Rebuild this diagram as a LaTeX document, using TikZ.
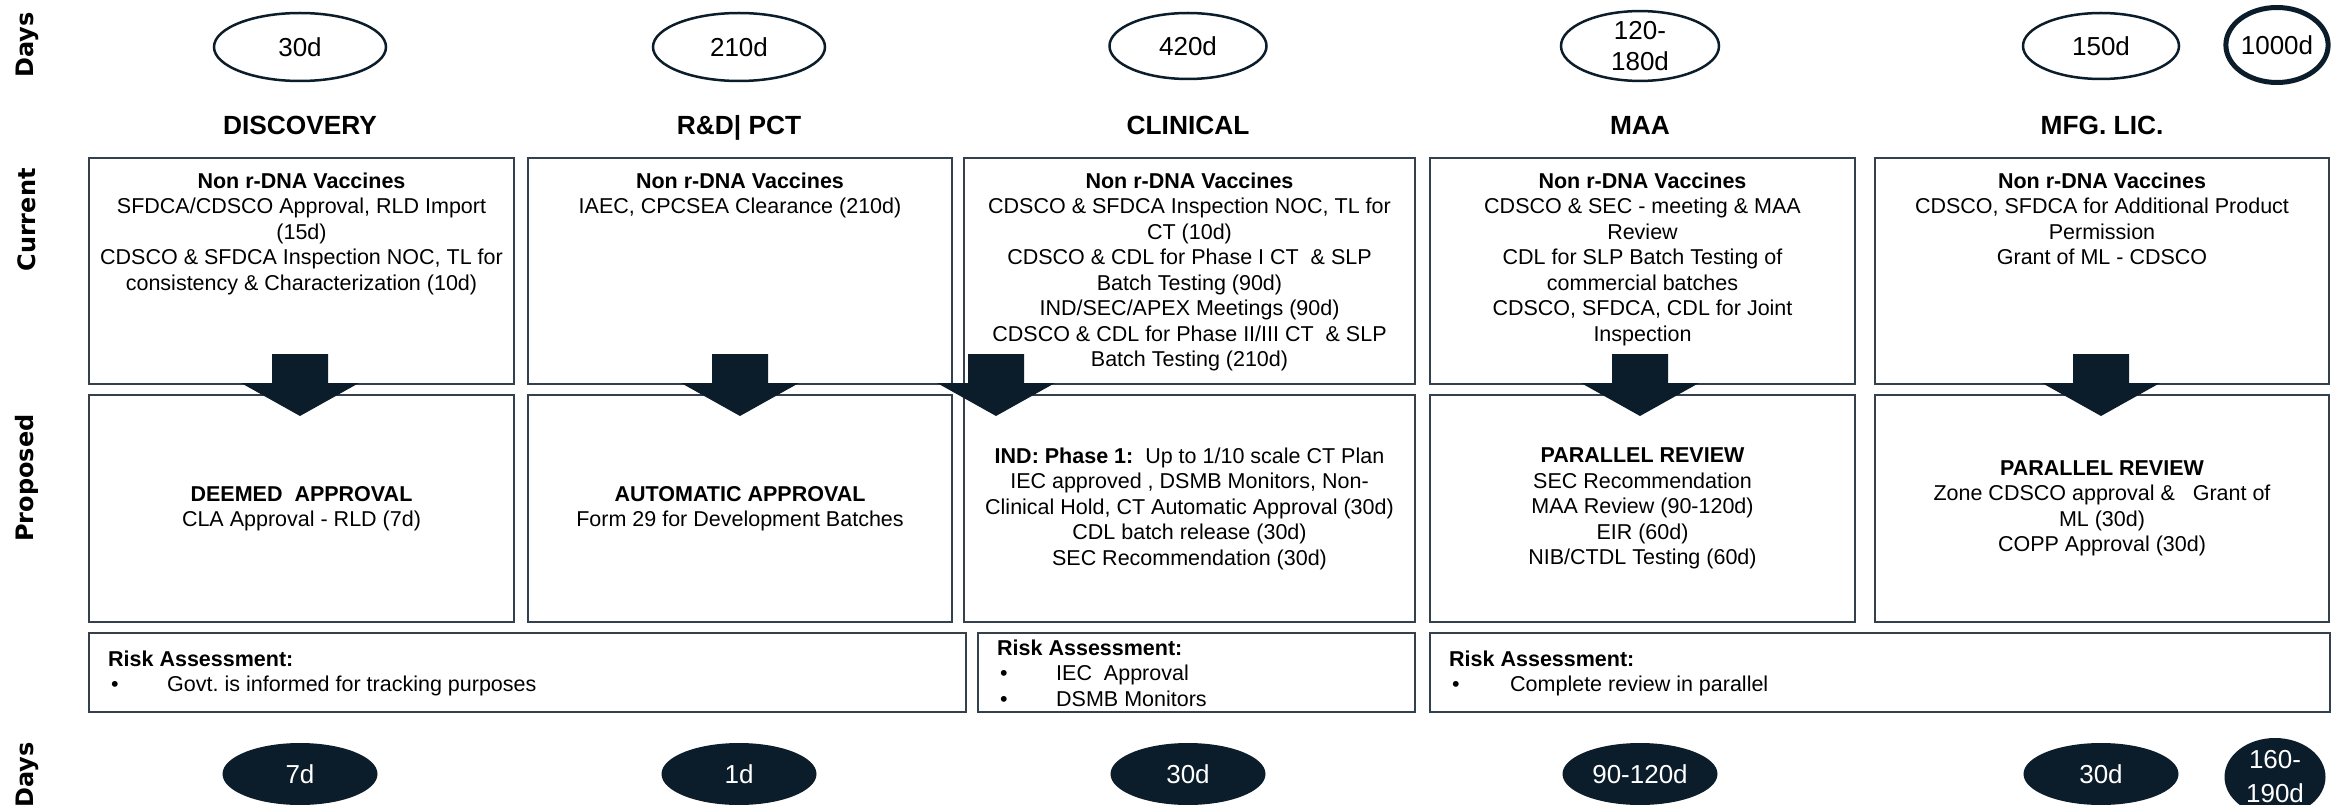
\documentclass[tikz,border=0pt]{standalone}
\usepackage{fontspec}
\setmainfont{Liberation Sans}
\newfontfamily\sidefont{DejaVu Sans}
\usetikzlibrary{shapes.geometric}
\frenchspacing
\definecolor{navy}{HTML}{0B1D2B}
\definecolor{edge}{HTML}{34414C}
\newcommand\blt[1]{\makebox[59pt][l]{\hspace*{3pt}\textbullet}#1}
\tikzset{
  body/.style={font=\fontsize{21.5}{25.5}\selectfont, align=center, inner sep=0pt},
  box/.style={draw=edge, line width=2pt, inner sep=0pt, anchor=north west},
  ell/.style={ellipse, draw=navy, line width=2.5pt, inner sep=0pt, align=center,
    font=\fontsize{26}{31}\selectfont},
  dell/.style={ellipse, fill=navy, text=white, inner sep=0pt, align=center,
    font=\fontsize{26}{34}\selectfont, minimum width=155, minimum height=62},
  head/.style={font=\bfseries\fontsize{26.3}{30}\selectfont, anchor=base, inner sep=0pt},
  side/.style={font=\sidefont\bfseries\fontsize{24}{28}\selectfont, rotate=90},
  risk/.style={font=\fontsize{21.5}{25.5}\selectfont, align=left, inner sep=0pt, anchor=west},
  blockarrow/.style={fill=navy}
}
\begin{document}
\begin{tikzpicture}[x=1pt,y=-1pt]
\useasboundingbox (0,0) rectangle (2346,805);
\fill[white] (0,0) rectangle (2346,805);

% side labels
\node[side] (sd1) at (27,45) {Days};
\node[side] (scur) at (27,220) {Current};
\node[side] (sprop) at (27,478) {Proposed};
\node[side] (sd2) at (27,775) {Days};

% top ellipses
\node[ell, minimum width=172, minimum height=68] (t1) at (300,47) {30d};
\node[ell, minimum width=172, minimum height=68] (t2) at (739,47) {210d};
\node[ell, minimum width=157, minimum height=66] (t3) at (1188,46) {420d};
\node[ell, minimum width=158, minimum height=66] (t4) at (1640,46) {120-\\180d};
\node[ell, minimum width=156, minimum height=66] (t5) at (2101,46) {150d};
\node[ell, line width=5pt, minimum width=102, minimum height=75] (t6) at (2277,45) {1000d};

% headers
\node[head] (h1) at (300,134.5) {DISCOVERY};
\node[head] (h2) at (739,134.5) {R\&D| PCT};
\node[head] (h3) at (1188,134.5) {CLINICAL};
\node[head] (h4) at (1640,134.5) {MAA};
\node[head] (h5) at (2102,134.5) {MFG. LIC.};

% current boxes
\node[box, minimum width=425, minimum height=226] (c1) at (88,157) {};
\node[box, minimum width=424, minimum height=226] (c2) at (527,157) {};
\node[box, minimum width=451, minimum height=226] (c3) at (963,157) {};
\node[box, minimum width=425, minimum height=226] (c4) at (1429,157) {};
\node[box, minimum width=454, minimum height=226] (c5) at (1874,157) {};

\node[body, anchor=north] (c1t) at (c1.north |- 0,172.5) {\textbf{Non r-DNA Vaccines}\\SFDCA/CDSCO Approval, RLD Import\\(15d)\\CDSCO \& SFDCA Inspection NOC, TL for\\consistency \& Characterization (10d)};
\node[body, anchor=north] (c2t) at (c2.north |- 0,172.5) {\textbf{Non r-DNA Vaccines}\\IAEC, CPCSEA Clearance (210d)};
\node[body, anchor=north] (c3t) at (c3.north |- 0,172.5) {\textbf{Non r-DNA Vaccines}\\CDSCO \& SFDCA Inspection NOC, TL for\\CT (10d)\\CDSCO \& CDL for Phase I CT~~\& SLP\\Batch Testing (90d)\\IND/SEC/APEX Meetings (90d)\\CDSCO \& CDL for Phase II/III CT~~\& SLP\\Batch Testing (210d)};
\node[body, anchor=north] (c4t) at (c4.north |- 0,172.5) {\textbf{Non r-DNA Vaccines}\\CDSCO \& SEC - meeting \& MAA\\Review\\CDL for SLP Batch Testing of\\commercial batches\\CDSCO, SFDCA, CDL for Joint\\Inspection};
\node[body, anchor=north] (c5t) at (c5.north |- 0,172.5) {\textbf{Non r-DNA Vaccines}\\CDSCO, SFDCA for Additional Product\\Permission\\Grant of ML - CDSCO};

% proposed boxes
\node[box, body, minimum width=425, minimum height=227] (p1) at (88,394) {\textbf{DEEMED~~APPROVAL}\\CLA Approval - RLD (7d)};
\node[box, body, minimum width=424, minimum height=227] (p2) at (527,394) {\textbf{AUTOMATIC APPROVAL}\\Form 29 for Development Batches};
\node[box, body, minimum width=451, minimum height=227] (p3) at (963,394) {\textbf{IND: Phase 1:}~~Up to 1/10 scale CT Plan\\IEC approved , DSMB Monitors, Non-\\Clinical Hold, CT Automatic Approval (30d)\\CDL batch release (30d)\\SEC Recommendation (30d)};
\node[box, body, minimum width=425, minimum height=227] (p4) at (1429,394) {\textbf{PARALLEL REVIEW}\\SEC Recommendation\\MAA Review (90-120d)\\EIR (60d)\\NIB/CTDL Testing (60d)};
\node[box, body, minimum width=454, minimum height=227] (p5) at (1874,394) {\textbf{PARALLEL REVIEW}\\Zone CDSCO approval \&~~~Grant of\\ML (30d)\\COPP Approval (30d)};

% risk boxes
\node[box, minimum width=877, minimum height=79] (r1) at (88,632) {};
\node[box, minimum width=437, minimum height=79] (r2) at (977,632) {};
\node[box, minimum width=900, minimum height=79] (r3) at (1429,632) {};
\node[risk] (r1t) at (108,673.5) {\textbf{Risk Assessment:}\\\blt{Govt. is informed for tracking purposes}};
\node[risk] (r2t) at (997,673) {\textbf{Risk Assessment:}\\\blt{IEC~~Approval}\\\blt{DSMB Monitors}};
\node[risk] (r3t) at (1449,673.5) {\textbf{Risk Assessment:}\\\makebox[61pt][l]{\hspace*{3pt}\textbullet}Complete review in parallel};

% bottom ellipses
\node[dell] (b1) at (300,774) {7d};
\node[dell] (b2) at (739,774) {1d};
\node[dell] (b3) at (1188,774) {30d};
\node[dell] (b4) at (1640,774) {90-120d};
\node[dell] (b5) at (2101,774) {30d};
\node[dell, minimum width=101, minimum height=78] (b6) at (2275,777) {160-\\190d};

% block arrows
\foreach \cx in {300,740,996,1640,2101}
  \fill[blockarrow] (\cx-28,354) -- (\cx+28,354) -- (\cx+28,383) -- (\cx+59,383)
     -- (\cx,416) -- (\cx-59,383) -- (\cx-28,383) -- cycle;
\end{tikzpicture}
\end{document}
